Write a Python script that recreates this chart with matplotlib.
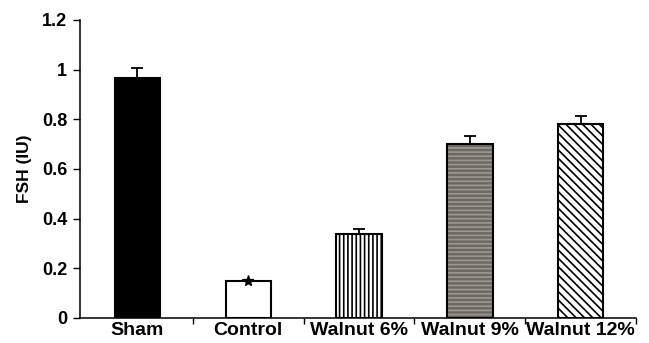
import numpy as np
import matplotlib.pyplot as plt

plt.rcParams['font.family'] = ['Liberation Sans', 'DejaVu Sans']
plt.rcParams['font.weight'] = 'bold'
plt.rcParams['hatch.linewidth'] = 1.2

groups = ['Sham', 'Control', 'Walnut 6%', 'Walnut 9%', 'Walnut 12%']
fsh = [0.965, 0.147, 0.338, 0.700, 0.781]
fsh_err = [0.040, 0.004, 0.020, 0.033, 0.034]

x = np.arange(len(groups))
w = 0.41

fig = plt.figure(figsize=(6.49, 3.43), dpi=100)
ax = fig.add_axes([0.123, 0.073, 0.857, 0.869])

faces = ['black', 'white', 'white', '#6c6864', 'white']
hatch_col = ['black', 'black', 'black', '#9c9892', 'black']
hatches = [None, None, '||||', '----', '\\\\\\\\']

# fill + hatch first, then a plain black outline on top
for i in range(len(groups)):
    ax.bar(x[i], fsh[i], w, color=faces[i], edgecolor=hatch_col[i],
           hatch=hatches[i], linewidth=0, zorder=2)
ax.bar(x, fsh, w, facecolor='none', edgecolor='black', linewidth=1.5, zorder=3)

# upward-only error bars
ax.errorbar(x, fsh, yerr=[np.zeros(len(fsh)), fsh_err], fmt='none',
            ecolor='black', elinewidth=1.3, capsize=4, capthick=1.3, zorder=4)

# significance star on the control bar
ax.plot(x[1], fsh[1], marker='*', color='black', markersize=8, zorder=5)

ax.set_xlim(-0.52, 4.5)
ax.set_ylim(0, 1.2)
ax.set_yticks([0, 0.2, 0.4, 0.6, 0.8, 1, 1.2])
ax.set_yticklabels(['0', '0.2', '0.4', '0.6', '0.8', '1', '1.2'])
ax.set_xticks(x)
ax.set_xticklabels(groups, fontsize=14, fontweight='bold')
ax.set_xticks([0.5, 1.5, 2.5, 3.5, 4.5], minor=True)
ax.tick_params(axis='x', which='major', length=0, pad=3)
ax.tick_params(axis='x', which='minor', length=4, width=1, direction='out')
ax.tick_params(axis='y', length=5, width=1, labelsize=13, pad=4)
for t in ax.get_yticklabels():
    t.set_fontweight('bold')

ax.set_ylabel('FSH (IU)', fontsize=12.5, fontweight='bold', labelpad=7)

for s in ['top', 'right']:
    ax.spines[s].set_visible(False)
for s in ['left', 'bottom']:
    ax.spines[s].set_linewidth(1.1)

fig.savefig('out.png', dpi=100)
